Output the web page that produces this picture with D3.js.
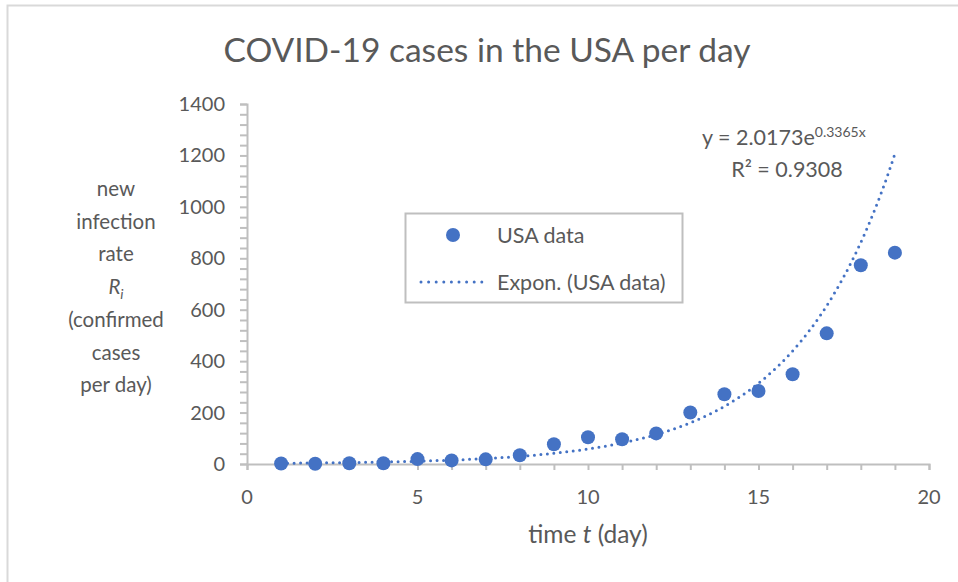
<!DOCTYPE html>
<html>
<head>
<meta charset="utf-8">
<script src="https://cdn.jsdelivr.net/npm/d3@7"></script>
<style>
  body { margin: 0; background: #fff; }
  svg text { font-family: Lato, 'Open Sans', sans-serif; fill: #595959; }
</style>
</head>
<body>
<div id="chart"></div>
<script>
// values
const days = [1, 2, 3, 4, 5, 6, 7, 8, 9, 10, 11, 12, 13, 14, 15, 16, 17, 18, 19]
const cases = [2, 1, 3, 3, 19, 14, 18, 34, 77, 104, 96, 119, 200, 271, 284, 349, 508, 773, 822]
const xTicks = [0, 5, 10, 15, 20]
const yTicks = [0, 200, 400, 600, 800, 1000, 1200, 1400]
const yTitleLines = ['new', 'infection', 'rate', 'R', '(confirmed', 'cases', 'per day)']

// exponential trendline as printed on the chart
const fitA = 2.0173
const fitB = 0.3365
const fitR2 = '0.9308'

const W = 958
const H = 582
const blue = '#4472C4'
const axisGrey = '#BFBFBF'

const svg = d3.select('#chart').append('svg')
  .attr('width', W)
  .attr('height', H)

// chart frame (only top and left edges visible in the shot)
svg.append('path')
  .attr('d', `M7.5,${H} V5.5 H${W}`)
  .attr('fill', 'none')
  .attr('stroke', '#D9D9D9')
  .attr('stroke-width', 2)

const x = d3.scaleLinear().domain([0, 20]).range([247, 929])
const y = d3.scaleLinear().domain([0, 1400]).range([464, 104])

// axes: lines + minor ticks drawn via d3 axis, labels separately
const xAxis = d3.axisBottom(x)
  .tickValues(d3.range(0, 21, 1))
  .tickSize(6)
  .tickFormat('')
const yAxis = d3.axisLeft(y)
  .tickValues(d3.range(0, 1401, 40))
  .tickSize(7)
  .tickFormat('')

const gx = svg.append('g').attr('transform', `translate(0,${y(0)})`).call(xAxis)
const gy = svg.append('g').attr('transform', `translate(${x(0)},0)`).call(yAxis)
;[gx, gy].forEach(g => {
  g.select('.domain').attr('stroke', axisGrey).attr('stroke-width', 2)
  g.selectAll('.tick line').attr('stroke', axisGrey).attr('stroke-width', 2)
})

svg.append('g').selectAll('text')
  .data(xTicks)
  .join('text')
  .attr('x', d => x(d))
  .attr('y', 504)
  .attr('text-anchor', 'middle')
  .style('font-size', '20px')
  .text(d => d)

svg.append('g').selectAll('text')
  .data(yTicks)
  .join('text')
  .attr('x', 225)
  .attr('y', d => y(d) + 7)
  .attr('text-anchor', 'end')
  .style('font-size', '20px')
  .text(d => d)

// titles
svg.append('text')
  .attr('x', 487)
  .attr('y', 62)
  .attr('text-anchor', 'middle')
  .style('font-size', '33.5px')
  .text('COVID-19 cases in the USA per day')

const xTitle = svg.append('text')
  .attr('x', 588)
  .attr('y', 543)
  .attr('text-anchor', 'middle')
  .style('font-size', '24.5px')
xTitle.append('tspan').text('time ')
xTitle.append('tspan').style('font-style', 'italic').text('t')
xTitle.append('tspan').text(' (day)')

const yTitle = svg.append('g')
yTitleLines.forEach((line, i) => {
  const t = yTitle.append('text')
    .attr('x', 116)
    .attr('y', 196 + i * 32.7)
    .attr('text-anchor', 'middle')
    .style('font-size', '20.5px')
  if (line === 'R') {
    t.append('tspan').style('font-style', 'italic').text('R')
    t.append('tspan').style('font-style', 'italic').style('font-size', '14px')
      .attr('dy', 5).text('i')
  } else {
    t.text(line)
  }
})

// trendline
const trend = d3.range(1, 19.001, 0.05).map(d => [d, fitA * Math.exp(fitB * d)])
const line = d3.line().x(d => x(d[0])).y(d => y(d[1]))

svg.append('path')
  .datum(trend)
  .attr('d', line)
  .attr('fill', 'none')
  .attr('stroke', blue)
  .attr('stroke-width', 3)
  .attr('stroke-linecap', 'round')
  .attr('stroke-dasharray', '0 6.5')

// data points
svg.append('g').selectAll('circle')
  .data(days)
  .join('circle')
  .attr('cx', d => x(d))
  .attr('cy', (d, i) => y(cases[i]))
  .attr('r', 7)
  .attr('fill', blue)

// equation label
const eq = svg.append('text')
  .attr('x', 702)
  .attr('y', 145)
  .style('font-size', '21.5px')
eq.append('tspan').text(`y = ${fitA}e`)
eq.append('tspan').attr('dy', -8).style('font-size', '14px').text(`${fitB}x`)

svg.append('text')
  .attr('x', 787)
  .attr('y', 177)
  .attr('text-anchor', 'middle')
  .style('font-size', '21.5px')
  .text(`R² = ${fitR2}`)

// legend
const legend = svg.append('g')
legend.append('rect')
  .attr('x', 405.5)
  .attr('y', 213.5)
  .attr('width', 277)
  .attr('height', 89)
  .attr('fill', '#fff')
  .attr('stroke', axisGrey)
  .attr('stroke-width', 2)
legend.append('circle')
  .attr('cx', 453)
  .attr('cy', 235)
  .attr('r', 7)
  .attr('fill', blue)
legend.append('line')
  .attr('x1', 421).attr('x2', 482)
  .attr('y1', 282).attr('y2', 282)
  .attr('stroke', blue)
  .attr('stroke-width', 3)
  .attr('stroke-linecap', 'round')
  .attr('stroke-dasharray', '0 7.6')
legend.selectAll('text')
  .data(['USA data', 'Expon. (USA data)'])
  .join('text')
  .attr('x', 497)
  .attr('y', (d, i) => 243 + i * 47)
  .style('font-size', '21.5px')
  .text(d => d)
</script>
</body>
</html>
